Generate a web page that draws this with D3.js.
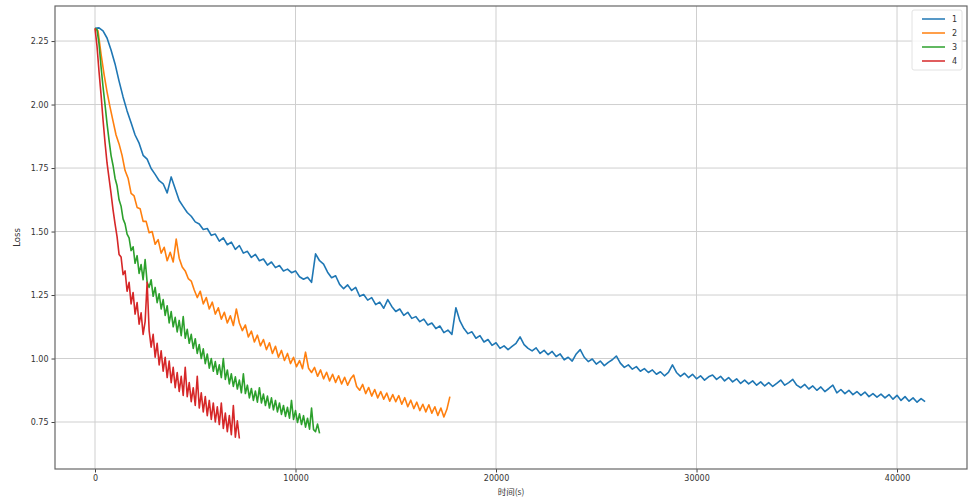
<!DOCTYPE html>
<html>
<head>
<meta charset="utf-8">
<script src="https://cdn.jsdelivr.net/npm/d3@7/dist/d3.min.js"></script>
<style>
    body { margin: 0; background: #fff; }
    text { font-family: "DejaVu Sans", sans-serif; }
</style>
</head>
<body>
<div id="chart"></div>
<script>
// series labels and logging interval (seconds between points)
const seriesNames = ["1", "2", "3", "4"];
const seriesColors = ["#1f77b4", "#ff7f0e", "#2ca02c", "#d62728"];
const logStep = [200, 150, 100, 100];

// loss values
const loss1 = [
    2.300, 2.302, 2.290, 2.262, 2.215, 2.160, 2.092, 2.030, 1.975, 1.928,
    1.880, 1.848, 1.800, 1.785, 1.748, 1.725, 1.700, 1.688, 1.652, 1.715,
    1.668, 1.622, 1.598, 1.575, 1.560, 1.538, 1.530, 1.508, 1.512, 1.485,
    1.490, 1.462, 1.475, 1.448, 1.458, 1.430, 1.445, 1.415, 1.422, 1.398,
    1.410, 1.385, 1.392, 1.368, 1.380, 1.358, 1.366, 1.345, 1.352, 1.338,
    1.345, 1.322, 1.312, 1.320, 1.300, 1.412, 1.385, 1.372, 1.340, 1.318,
    1.326, 1.292, 1.275, 1.290, 1.268, 1.280, 1.245, 1.252, 1.230, 1.240,
    1.212, 1.222, 1.198, 1.232, 1.205, 1.185, 1.195, 1.170, 1.182, 1.158,
    1.165, 1.145, 1.155, 1.132, 1.140, 1.118, 1.128, 1.102, 1.112, 1.095,
    1.200, 1.148, 1.118, 1.098, 1.105, 1.080, 1.090, 1.065, 1.075, 1.052,
    1.062, 1.040, 1.050, 1.035, 1.048, 1.060, 1.085, 1.055, 1.040, 1.030,
    1.042, 1.020, 1.032, 1.015, 1.028, 1.008, 1.018, 0.995, 1.005, 0.990,
    1.018, 1.035, 1.005, 0.988, 0.998, 0.978, 0.990, 0.972, 0.985, 0.995,
    1.010, 0.982, 0.965, 0.975, 0.958, 0.968, 0.950, 0.960, 0.945, 0.955,
    0.938, 0.948, 0.932, 0.945, 0.975, 0.945, 0.930, 0.942, 0.925, 0.938,
    0.920, 0.932, 0.915, 0.928, 0.935, 0.918, 0.930, 0.912, 0.925, 0.908,
    0.920, 0.902, 0.915, 0.900, 0.912, 0.895, 0.908, 0.892, 0.905, 0.890,
    0.902, 0.915, 0.895, 0.905, 0.918, 0.895, 0.885, 0.898, 0.880, 0.892,
    0.875, 0.888, 0.870, 0.882, 0.895, 0.865, 0.878, 0.862, 0.875, 0.858,
    0.870, 0.855, 0.868, 0.850, 0.862, 0.848, 0.860, 0.845, 0.858, 0.840,
    0.855, 0.835, 0.850, 0.832, 0.845, 0.828, 0.842, 0.830
];
const loss2 = [
    2.300, 2.290, 2.200, 2.120, 2.050, 1.990, 1.935, 1.880, 1.845, 1.800,
    1.740, 1.710, 1.650, 1.640, 1.595, 1.590, 1.540, 1.540, 1.495, 1.500,
    1.450, 1.468, 1.415, 1.438, 1.385, 1.418, 1.380, 1.470, 1.395, 1.360,
    1.345, 1.315, 1.305, 1.270, 1.240, 1.265, 1.215, 1.240, 1.195, 1.222,
    1.175, 1.200, 1.155, 1.182, 1.140, 1.168, 1.130, 1.195, 1.140, 1.110,
    1.132, 1.085, 1.108, 1.065, 1.092, 1.050, 1.075, 1.035, 1.062, 1.020,
    1.048, 1.005, 1.032, 0.992, 1.020, 0.980, 1.005, 0.968, 0.992, 0.960,
    1.025, 0.962, 0.945, 0.965, 0.930, 0.955, 0.920, 0.946, 0.912, 0.938,
    0.906, 0.932, 0.900, 0.926, 0.895, 0.920, 0.935, 0.890, 0.875, 0.898,
    0.862, 0.886, 0.852, 0.878, 0.845, 0.870, 0.840, 0.864, 0.832, 0.858,
    0.830, 0.854, 0.820, 0.846, 0.810, 0.836, 0.803, 0.828, 0.795, 0.820,
    0.790, 0.818, 0.785, 0.810, 0.776, 0.805, 0.770, 0.800, 0.850
];
const loss3 = [
    2.300, 2.295, 2.240, 2.150, 2.070, 2.000, 1.925, 1.860, 1.800, 1.760,
    1.710, 1.680, 1.625, 1.600, 1.550, 1.530, 1.490, 1.475, 1.425, 1.440,
    1.375, 1.405, 1.335, 1.370, 1.310, 1.390, 1.300, 1.280, 1.310, 1.245,
    1.280, 1.220, 1.255, 1.195, 1.232, 1.170, 1.208, 1.140, 1.185, 1.125,
    1.162, 1.105, 1.150, 1.090, 1.165, 1.080, 1.115, 1.060, 1.095, 1.040,
    1.078, 1.020, 1.055, 1.000, 1.038, 0.980, 1.018, 0.962, 1.000, 0.950,
    0.988, 0.938, 0.975, 0.925, 1.000, 0.918, 0.955, 0.900, 0.940, 0.890,
    0.928, 0.880, 0.915, 0.865, 0.940, 0.862, 0.895, 0.845, 0.882, 0.835,
    0.872, 0.828, 0.885, 0.825, 0.860, 0.815, 0.852, 0.805, 0.845, 0.798,
    0.835, 0.790, 0.825, 0.780, 0.815, 0.772, 0.808, 0.765, 0.835, 0.760,
    0.795, 0.748, 0.782, 0.740, 0.775, 0.730, 0.765, 0.722, 0.805, 0.720,
    0.712, 0.742, 0.705
];
const loss4 = [
    2.300, 2.230, 2.130, 2.040, 1.940, 1.850, 1.770, 1.710, 1.650, 1.585,
    1.530, 1.480, 1.410, 1.400, 1.330, 1.345, 1.265, 1.300, 1.215, 1.260,
    1.175, 1.220, 1.135, 1.180, 1.095, 1.145, 1.300, 1.110, 1.045, 1.095,
    1.005, 1.060, 0.975, 1.030, 0.950, 1.005, 0.925, 0.990, 0.905, 0.965,
    0.885, 0.945, 0.870, 0.930, 0.855, 0.965, 0.850, 0.905, 0.830, 0.885,
    0.815, 0.930, 0.805, 0.865, 0.790, 0.850, 0.775, 0.835, 0.760, 0.825,
    0.750, 0.810, 0.740, 0.825, 0.725, 0.785, 0.712, 0.775, 0.700, 0.815,
    0.690, 0.755, 0.685
];
const allLoss = [loss1, loss2, loss3, loss4];

const xTicks = [0, 10000, 20000, 30000, 40000];
const yTicks = [0.75, 1.00, 1.25, 1.50, 1.75, 2.00, 2.25];

const width = 973, height = 500;
const margin = { left: 55, right: 6, top: 6, bottom: 31 };

const svg = d3.select("#chart").append("svg")
    .attr("width", width)
    .attr("height", height);

const x = d3.scaleLinear()
    .domain([-1995, 43490])
    .range([margin.left, width - margin.right]);

const y = d3.scaleLinear()
    .domain([0.565, 2.388])
    .range([height - margin.bottom, margin.top]);

// grid
svg.append("g")
    .selectAll("line.vgrid")
    .data(xTicks)
    .join("line")
    .attr("x1", d => x(d)).attr("x2", d => x(d))
    .attr("y1", margin.top).attr("y2", height - margin.bottom)
    .style("stroke", "#cfcfcf")
    .style("stroke-width", 1);

svg.append("g")
    .selectAll("line.hgrid")
    .data(yTicks)
    .join("line")
    .attr("x1", margin.left).attr("x2", width - margin.right)
    .attr("y1", d => y(d)).attr("y2", d => y(d))
    .style("stroke", "#cfcfcf")
    .style("stroke-width", 1);

// lines
const line = d3.line()
    .x(d => x(d[0]))
    .y(d => y(d[1]));

allLoss.forEach((vals, si) => {
    let pts = vals.map((v, i) => [i * logStep[si], v]);
    svg.append("path")
        .datum(pts)
        .attr("d", line)
        .style("fill", "none")
        .style("stroke", seriesColors[si])
        .style("stroke-width", 1.6)
        .style("stroke-linejoin", "round");
});

// axes
const xAxis = svg.append("g")
    .attr("transform", "translate(0," + (height - margin.bottom) + ")")
    .call(d3.axisBottom(x).tickValues(xTicks).tickFormat(d3.format("d")).tickSize(3.5).tickPadding(3));

const yAxis = svg.append("g")
    .attr("transform", "translate(" + margin.left + ",0)")
    .call(d3.axisLeft(y).tickValues(yTicks).tickFormat(d3.format(".2f")).tickSize(3.5).tickPadding(3));

[xAxis, yAxis].forEach(ax => {
    ax.select(".domain").remove();
    ax.selectAll(".tick line").style("stroke", "#444");
    ax.selectAll(".tick text")
        .style("font-size", "8px")
        .style("fill", "#333")
        .style("font-family", "DejaVu Sans, sans-serif");
});

// frame
svg.append("rect")
    .attr("x", margin.left)
    .attr("y", margin.top)
    .attr("width", width - margin.left - margin.right)
    .attr("height", height - margin.top - margin.bottom)
    .style("fill", "none")
    .style("stroke", "#666")
    .style("stroke-width", 1.2);

// axis labels
svg.append("text")
    .attr("x", (margin.left + width - margin.right) / 2)
    .attr("y", 495)
    .attr("text-anchor", "middle")
    .style("font-size", "8.5px")
    .style("fill", "#333")
    .style("font-family", "'Noto Sans CJK SC', sans-serif")
    .text("时间(s)");

svg.append("text")
    .attr("transform", "translate(20," + ((margin.top + height - margin.bottom) / 2) + ") rotate(-90)")
    .attr("text-anchor", "middle")
    .style("font-size", "8.5px")
    .style("fill", "#333")
    .text("Loss");

// legend
const legend = svg.append("g");

legend.append("rect")
    .attr("x", 912).attr("y", 10)
    .attr("width", 50).attr("height", 60)
    .attr("rx", 2)
    .style("fill", "#fff")
    .style("fill-opacity", 0.8)
    .style("stroke", "#e2e2e2");

seriesNames.forEach((name, i) => {
    let ly = 19 + i * 14;
    legend.append("line")
        .attr("x1", 922).attr("x2", 945)
        .attr("y1", ly).attr("y2", ly)
        .style("stroke", seriesColors[i])
        .style("stroke-width", 1.5);
    legend.append("text")
        .attr("x", 952).attr("y", ly + 3)
        .style("font-size", "8px")
        .style("fill", "#333")
        .text(name);
});
</script>
</body>
</html>
